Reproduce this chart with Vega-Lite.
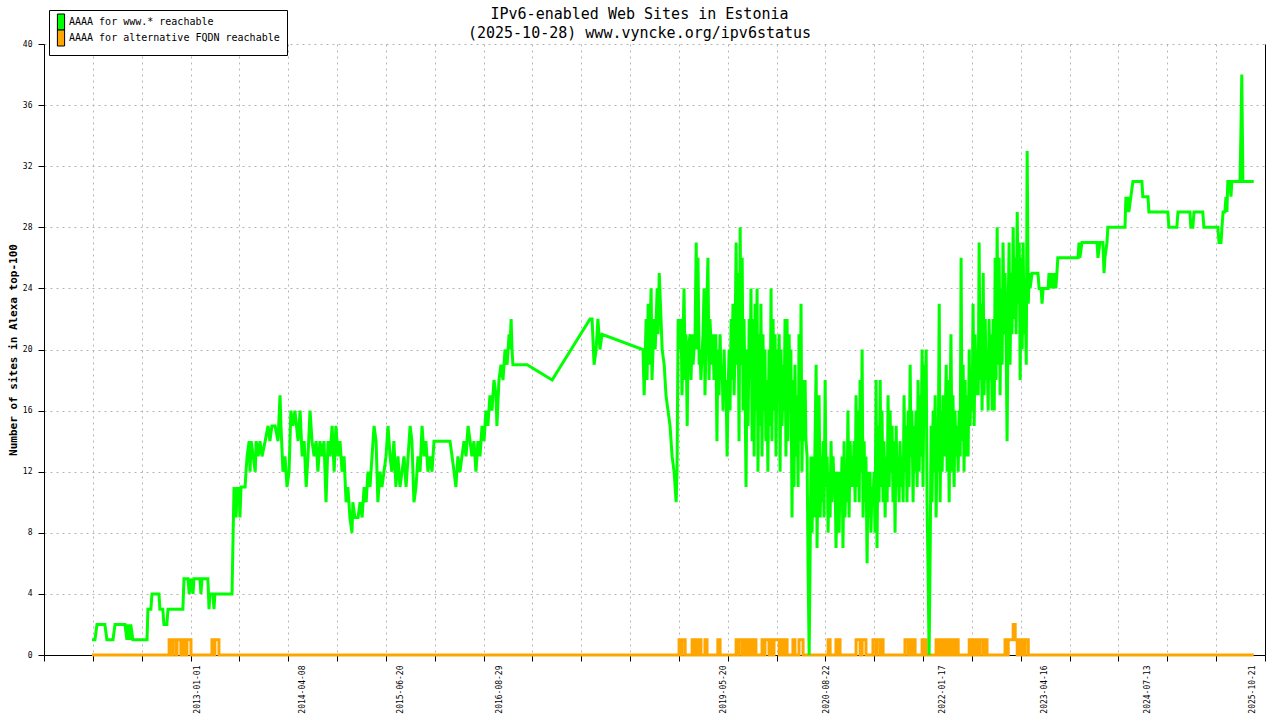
{
  "$schema": "https://vega.github.io/schema/vega-lite/v6.json",
  "width": 1221,
  "height": 611,
  "autosize": {"type": "none"},
  "padding": {"left": 44, "top": 44, "right": 15, "bottom": 65},
  "background": "white",
  "config": {
    "view": {"stroke": null},
    "font": "DejaVu Sans Mono",
    "axis": {"labelFont": "DejaVu Sans Mono", "titleFont": "DejaVu Sans Mono", "labelColor": "black", "titleColor": "black"}
  },
  "title": {
    "text": ["IPv6-enabled Web Sites in Estonia", "(2025-10-28) www.vyncke.org/ipv6status"],
    "font": "DejaVu Sans Mono",
    "fontSize": 15,
    "fontWeight": "normal",
    "color": "black",
    "anchor": "middle",
    "lineHeight": 19,
    "dx": -15,
    "dy": 35
  },
  "datasets": {
    "www": [
      {"d": "2011-09-19", "v": 1}, {"d": "2011-10-02", "v": 1}, {"d": "2011-10-11", "v": 2}, {"d": "2011-11-15", "v": 2},
      {"d": "2011-11-24", "v": 1}, {"d": "2011-12-21", "v": 1}, {"d": "2011-12-30", "v": 2}, {"d": "2012-02-12", "v": 2},
      {"d": "2012-02-21", "v": 1}, {"d": "2012-02-25", "v": 2}, {"d": "2012-03-05", "v": 1}, {"d": "2012-03-09", "v": 2},
      {"d": "2012-03-18", "v": 1}, {"d": "2012-05-20", "v": 1}, {"d": "2012-05-24", "v": 3}, {"d": "2012-06-06", "v": 3},
      {"d": "2012-06-11", "v": 4}, {"d": "2012-07-12", "v": 4}, {"d": "2012-07-16", "v": 3}, {"d": "2012-07-29", "v": 3},
      {"d": "2012-08-03", "v": 2}, {"d": "2012-08-16", "v": 2}, {"d": "2012-08-21", "v": 3}, {"d": "2012-10-26", "v": 3},
      {"d": "2012-10-31", "v": 5}, {"d": "2012-11-18", "v": 5}, {"d": "2012-11-23", "v": 4}, {"d": "2012-12-01", "v": 5},
      {"d": "2012-12-10", "v": 4}, {"d": "2012-12-14", "v": 5}, {"d": "2013-01-10", "v": 5}, {"d": "2013-01-14", "v": 4},
      {"d": "2013-01-19", "v": 5}, {"d": "2013-02-14", "v": 5}, {"d": "2013-02-19", "v": 3}, {"d": "2013-02-23", "v": 4},
      {"d": "2013-03-08", "v": 4}, {"d": "2013-03-13", "v": 3}, {"d": "2013-03-17", "v": 4}, {"d": "2013-06-01", "v": 4},
      {"d": "2013-06-06", "v": 8}, {"d": "2013-06-10", "v": 11}, {"d": "2013-06-19", "v": 9}, {"d": "2013-06-24", "v": 11},
      {"d": "2013-06-28", "v": 10}, {"d": "2013-07-02", "v": 11}, {"d": "2013-07-06", "v": 9}, {"d": "2013-07-11", "v": 11},
      {"d": "2013-07-29", "v": 11}, {"d": "2013-08-02", "v": 12}, {"d": "2013-08-07", "v": 13}, {"d": "2013-08-16", "v": 14},
      {"d": "2013-08-20", "v": 12}, {"d": "2013-08-25", "v": 14}, {"d": "2013-09-03", "v": 13}, {"d": "2013-09-12", "v": 12},
      {"d": "2013-09-16", "v": 14}, {"d": "2013-09-25", "v": 13}, {"d": "2013-10-03", "v": 14}, {"d": "2013-10-12", "v": 13},
      {"d": "2013-10-26", "v": 14}, {"d": "2013-11-08", "v": 15}, {"d": "2013-11-16", "v": 14}, {"d": "2013-11-25", "v": 15},
      {"d": "2013-12-09", "v": 15}, {"d": "2013-12-22", "v": 14}, {"d": "2013-12-31", "v": 17}, {"d": "2014-01-04", "v": 15},
      {"d": "2014-01-13", "v": 12}, {"d": "2014-01-22", "v": 13}, {"d": "2014-01-31", "v": 11}, {"d": "2014-02-09", "v": 12},
      {"d": "2014-02-17", "v": 16}, {"d": "2014-02-26", "v": 15}, {"d": "2014-03-07", "v": 16}, {"d": "2014-03-21", "v": 14},
      {"d": "2014-03-30", "v": 16}, {"d": "2014-04-08", "v": 13}, {"d": "2014-04-17", "v": 14}, {"d": "2014-04-26", "v": 11},
      {"d": "2014-05-04", "v": 13}, {"d": "2014-05-13", "v": 16}, {"d": "2014-05-22", "v": 14}, {"d": "2014-05-31", "v": 13},
      {"d": "2014-06-09", "v": 14}, {"d": "2014-06-17", "v": 12}, {"d": "2014-06-26", "v": 14}, {"d": "2014-07-05", "v": 13},
      {"d": "2014-07-14", "v": 14}, {"d": "2014-07-23", "v": 10}, {"d": "2014-08-01", "v": 14}, {"d": "2014-08-10", "v": 13},
      {"d": "2014-08-19", "v": 15}, {"d": "2014-08-28", "v": 12}, {"d": "2014-09-05", "v": 15}, {"d": "2014-09-14", "v": 13},
      {"d": "2014-09-23", "v": 14}, {"d": "2014-10-02", "v": 12}, {"d": "2014-10-11", "v": 13}, {"d": "2014-10-20", "v": 10},
      {"d": "2014-10-28", "v": 11}, {"d": "2014-11-06", "v": 9}, {"d": "2014-11-15", "v": 8}, {"d": "2014-11-19", "v": 10},
      {"d": "2014-11-28", "v": 9}, {"d": "2014-12-12", "v": 9}, {"d": "2014-12-21", "v": 10}, {"d": "2014-12-30", "v": 9},
      {"d": "2015-01-08", "v": 11}, {"d": "2015-01-17", "v": 10}, {"d": "2015-01-25", "v": 12}, {"d": "2015-02-03", "v": 11},
      {"d": "2015-02-12", "v": 13}, {"d": "2015-02-21", "v": 15}, {"d": "2015-03-02", "v": 14}, {"d": "2015-03-10", "v": 10},
      {"d": "2015-03-19", "v": 12}, {"d": "2015-03-28", "v": 11}, {"d": "2015-04-06", "v": 12}, {"d": "2015-04-15", "v": 13},
      {"d": "2015-04-24", "v": 15}, {"d": "2015-05-03", "v": 13}, {"d": "2015-05-11", "v": 12}, {"d": "2015-05-20", "v": 14},
      {"d": "2015-05-29", "v": 11}, {"d": "2015-06-07", "v": 13}, {"d": "2015-06-16", "v": 11}, {"d": "2015-06-25", "v": 12},
      {"d": "2015-07-04", "v": 13}, {"d": "2015-07-13", "v": 11}, {"d": "2015-07-22", "v": 13}, {"d": "2015-07-31", "v": 15},
      {"d": "2015-08-08", "v": 14}, {"d": "2015-08-17", "v": 10}, {"d": "2015-08-26", "v": 11}, {"d": "2015-09-04", "v": 13},
      {"d": "2015-09-13", "v": 12}, {"d": "2015-09-22", "v": 15}, {"d": "2015-10-01", "v": 13}, {"d": "2015-10-09", "v": 14},
      {"d": "2015-10-18", "v": 12}, {"d": "2015-10-27", "v": 13}, {"d": "2015-11-05", "v": 12}, {"d": "2015-11-14", "v": 14},
      {"d": "2016-01-24", "v": 14}, {"d": "2016-02-02", "v": 13}, {"d": "2016-02-11", "v": 12}, {"d": "2016-02-19", "v": 11},
      {"d": "2016-02-28", "v": 13}, {"d": "2016-03-08", "v": 12}, {"d": "2016-03-17", "v": 13}, {"d": "2016-03-26", "v": 14},
      {"d": "2016-04-04", "v": 13}, {"d": "2016-04-13", "v": 15}, {"d": "2016-04-22", "v": 14}, {"d": "2016-04-30", "v": 13},
      {"d": "2016-05-09", "v": 14}, {"d": "2016-05-18", "v": 12}, {"d": "2016-05-27", "v": 14}, {"d": "2016-06-05", "v": 13},
      {"d": "2016-06-14", "v": 15}, {"d": "2016-06-23", "v": 14}, {"d": "2016-07-01", "v": 16}, {"d": "2016-07-10", "v": 15},
      {"d": "2016-07-19", "v": 17}, {"d": "2016-07-28", "v": 16}, {"d": "2016-08-06", "v": 18}, {"d": "2016-08-15", "v": 17},
      {"d": "2016-08-19", "v": 15}, {"d": "2016-08-28", "v": 18}, {"d": "2016-09-06", "v": 19}, {"d": "2016-09-15", "v": 18},
      {"d": "2016-09-24", "v": 20}, {"d": "2016-10-03", "v": 19}, {"d": "2016-10-12", "v": 21}, {"d": "2016-10-16", "v": 20},
      {"d": "2016-10-21", "v": 22}, {"d": "2016-10-25", "v": 20}, {"d": "2016-10-29", "v": 19}, {"d": "2016-12-31", "v": 19},
      {"d": "2017-04-21", "v": 18}, {"d": "2017-10-06", "v": 22}, {"d": "2017-10-15", "v": 22}, {"d": "2017-10-24", "v": 19},
      {"d": "2017-11-02", "v": 20}, {"d": "2017-11-10", "v": 22}, {"d": "2017-11-19", "v": 20}, {"d": "2017-11-28", "v": 21},
      {"d": "2018-05-29", "v": 20}, {"d": "2018-06-03", "v": 17}, {"d": "2018-06-12", "v": 22}, {"d": "2018-06-16", "v": 18},
      {"d": "2018-06-21", "v": 23}, {"d": "2018-06-25", "v": 19}, {"d": "2018-07-04", "v": 24}, {"d": "2018-07-08", "v": 18},
      {"d": "2018-07-17", "v": 22}, {"d": "2018-07-22", "v": 20}, {"d": "2018-07-31", "v": 24}, {"d": "2018-08-04", "v": 21},
      {"d": "2018-08-09", "v": 25}, {"d": "2018-08-17", "v": 22}, {"d": "2018-08-22", "v": 20}, {"d": "2018-08-31", "v": 19},
      {"d": "2018-09-08", "v": 17}, {"d": "2018-09-17", "v": 16}, {"d": "2018-09-26", "v": 15}, {"d": "2018-10-05", "v": 13},
      {"d": "2018-10-14", "v": 12}, {"d": "2018-10-23", "v": 10}, {"d": "2018-10-27", "v": 12}, {"d": "2018-11-01", "v": 22},
      {"d": "2018-11-05", "v": 20}, {"d": "2018-11-14", "v": 22}, {"d": "2018-11-18", "v": 17}, {"d": "2018-11-23", "v": 21},
      {"d": "2018-11-27", "v": 24}, {"d": "2018-12-02", "v": 18}, {"d": "2018-12-06", "v": 21}, {"d": "2018-12-11", "v": 15},
      {"d": "2018-12-15", "v": 20}, {"d": "2018-12-24", "v": 21}, {"d": "2018-12-28", "v": 18}, {"d": "2019-01-02", "v": 21},
      {"d": "2019-01-06", "v": 19}, {"d": "2019-01-15", "v": 21}, {"d": "2019-01-20", "v": 27}, {"d": "2019-01-24", "v": 20},
      {"d": "2019-01-28", "v": 26}, {"d": "2019-02-02", "v": 19}, {"d": "2019-02-06", "v": 20}, {"d": "2019-02-10", "v": 18},
      {"d": "2019-02-19", "v": 21}, {"d": "2019-02-24", "v": 24}, {"d": "2019-02-28", "v": 17}, {"d": "2019-03-04", "v": 20},
      {"d": "2019-03-13", "v": 26}, {"d": "2019-03-18", "v": 18}, {"d": "2019-03-22", "v": 22}, {"d": "2019-03-31", "v": 19},
      {"d": "2019-04-04", "v": 21}, {"d": "2019-04-09", "v": 18}, {"d": "2019-04-17", "v": 21}, {"d": "2019-04-22", "v": 14},
      {"d": "2019-04-26", "v": 20}, {"d": "2019-05-01", "v": 17}, {"d": "2019-05-06", "v": 21}, {"d": "2019-05-10", "v": 18},
      {"d": "2019-05-15", "v": 19}, {"d": "2019-05-19", "v": 16}, {"d": "2019-05-24", "v": 20}, {"d": "2019-05-28", "v": 17},
      {"d": "2019-06-01", "v": 18}, {"d": "2019-06-06", "v": 13}, {"d": "2019-06-10", "v": 17}, {"d": "2019-06-15", "v": 20},
      {"d": "2019-06-19", "v": 16}, {"d": "2019-06-24", "v": 22}, {"d": "2019-06-28", "v": 18}, {"d": "2019-07-02", "v": 23},
      {"d": "2019-07-07", "v": 17}, {"d": "2019-07-11", "v": 20}, {"d": "2019-07-16", "v": 27}, {"d": "2019-07-20", "v": 19},
      {"d": "2019-07-24", "v": 25}, {"d": "2019-07-29", "v": 14}, {"d": "2019-08-03", "v": 28}, {"d": "2019-08-07", "v": 19},
      {"d": "2019-08-12", "v": 26}, {"d": "2019-08-16", "v": 16}, {"d": "2019-08-20", "v": 22}, {"d": "2019-08-25", "v": 17},
      {"d": "2019-08-29", "v": 11}, {"d": "2019-09-03", "v": 20}, {"d": "2019-09-07", "v": 15}, {"d": "2019-09-12", "v": 22},
      {"d": "2019-09-16", "v": 18}, {"d": "2019-09-20", "v": 24}, {"d": "2019-09-25", "v": 14}, {"d": "2019-09-29", "v": 22},
      {"d": "2019-10-04", "v": 13}, {"d": "2019-10-08", "v": 23}, {"d": "2019-10-12", "v": 16}, {"d": "2019-10-17", "v": 24},
      {"d": "2019-10-21", "v": 12}, {"d": "2019-10-26", "v": 21}, {"d": "2019-10-30", "v": 15}, {"d": "2019-11-03", "v": 23},
      {"d": "2019-11-08", "v": 13}, {"d": "2019-11-12", "v": 21}, {"d": "2019-11-17", "v": 16}, {"d": "2019-11-21", "v": 20},
      {"d": "2019-11-25", "v": 14}, {"d": "2019-11-30", "v": 18}, {"d": "2019-12-04", "v": 12}, {"d": "2019-12-09", "v": 20},
      {"d": "2019-12-14", "v": 15}, {"d": "2019-12-18", "v": 24}, {"d": "2019-12-22", "v": 14}, {"d": "2019-12-27", "v": 22},
      {"d": "2019-12-31", "v": 16}, {"d": "2020-01-05", "v": 21}, {"d": "2020-01-09", "v": 13}, {"d": "2020-01-14", "v": 20},
      {"d": "2020-01-18", "v": 17}, {"d": "2020-01-23", "v": 21}, {"d": "2020-01-27", "v": 12}, {"d": "2020-01-31", "v": 20},
      {"d": "2020-02-05", "v": 15}, {"d": "2020-02-09", "v": 19}, {"d": "2020-02-14", "v": 16}, {"d": "2020-02-18", "v": 22},
      {"d": "2020-02-22", "v": 13}, {"d": "2020-02-27", "v": 22}, {"d": "2020-03-02", "v": 14}, {"d": "2020-03-07", "v": 21},
      {"d": "2020-03-11", "v": 17}, {"d": "2020-03-15", "v": 20}, {"d": "2020-03-20", "v": 9}, {"d": "2020-03-24", "v": 18},
      {"d": "2020-03-29", "v": 11}, {"d": "2020-04-02", "v": 19}, {"d": "2020-04-07", "v": 13}, {"d": "2020-04-11", "v": 17},
      {"d": "2020-04-16", "v": 11}, {"d": "2020-04-20", "v": 21}, {"d": "2020-04-25", "v": 14}, {"d": "2020-04-29", "v": 23},
      {"d": "2020-05-03", "v": 12}, {"d": "2020-05-08", "v": 18}, {"d": "2020-05-12", "v": 14}, {"d": "2020-05-17", "v": 18},
      {"d": "2020-05-21", "v": 14}, {"d": "2020-05-26", "v": 13}, {"d": "2020-05-30", "v": 6}, {"d": "2020-06-04", "v": 0},
      {"d": "2020-06-08", "v": 6}, {"d": "2020-06-12", "v": 13}, {"d": "2020-06-17", "v": 8}, {"d": "2020-06-21", "v": 13},
      {"d": "2020-06-26", "v": 9}, {"d": "2020-06-30", "v": 14}, {"d": "2020-07-05", "v": 19}, {"d": "2020-07-09", "v": 7},
      {"d": "2020-07-14", "v": 14}, {"d": "2020-07-18", "v": 17}, {"d": "2020-07-23", "v": 9}, {"d": "2020-07-27", "v": 13},
      {"d": "2020-07-31", "v": 10}, {"d": "2020-08-05", "v": 14}, {"d": "2020-08-09", "v": 9}, {"d": "2020-08-14", "v": 18},
      {"d": "2020-08-18", "v": 11}, {"d": "2020-08-23", "v": 13}, {"d": "2020-08-27", "v": 8}, {"d": "2020-08-31", "v": 12},
      {"d": "2020-09-05", "v": 9}, {"d": "2020-09-09", "v": 14}, {"d": "2020-09-14", "v": 10}, {"d": "2020-09-18", "v": 13},
      {"d": "2020-09-23", "v": 11}, {"d": "2020-09-27", "v": 12}, {"d": "2020-10-01", "v": 7}, {"d": "2020-10-06", "v": 11},
      {"d": "2020-10-10", "v": 12}, {"d": "2020-10-15", "v": 8}, {"d": "2020-10-19", "v": 12}, {"d": "2020-10-23", "v": 10},
      {"d": "2020-10-28", "v": 13}, {"d": "2020-11-01", "v": 7}, {"d": "2020-11-06", "v": 14}, {"d": "2020-11-10", "v": 9},
      {"d": "2020-11-15", "v": 12}, {"d": "2020-11-19", "v": 10}, {"d": "2020-11-23", "v": 16}, {"d": "2020-11-28", "v": 9},
      {"d": "2020-12-03", "v": 14}, {"d": "2020-12-07", "v": 11}, {"d": "2020-12-12", "v": 13}, {"d": "2020-12-16", "v": 11},
      {"d": "2020-12-20", "v": 14}, {"d": "2020-12-25", "v": 10}, {"d": "2020-12-29", "v": 17}, {"d": "2021-01-03", "v": 11},
      {"d": "2021-01-07", "v": 16}, {"d": "2021-01-12", "v": 10}, {"d": "2021-01-16", "v": 18}, {"d": "2021-01-20", "v": 12},
      {"d": "2021-01-25", "v": 20}, {"d": "2021-01-29", "v": 9}, {"d": "2021-02-03", "v": 14}, {"d": "2021-02-07", "v": 10},
      {"d": "2021-02-11", "v": 13}, {"d": "2021-02-16", "v": 6}, {"d": "2021-02-20", "v": 12}, {"d": "2021-02-25", "v": 9},
      {"d": "2021-03-01", "v": 12}, {"d": "2021-03-05", "v": 8}, {"d": "2021-03-10", "v": 11}, {"d": "2021-03-14", "v": 10},
      {"d": "2021-03-19", "v": 12}, {"d": "2021-03-23", "v": 8}, {"d": "2021-03-28", "v": 18}, {"d": "2021-04-01", "v": 7},
      {"d": "2021-04-06", "v": 15}, {"d": "2021-04-10", "v": 10}, {"d": "2021-04-15", "v": 18}, {"d": "2021-04-19", "v": 11},
      {"d": "2021-04-23", "v": 16}, {"d": "2021-04-28", "v": 10}, {"d": "2021-05-02", "v": 14}, {"d": "2021-05-07", "v": 9},
      {"d": "2021-05-11", "v": 13}, {"d": "2021-05-16", "v": 10}, {"d": "2021-05-20", "v": 17}, {"d": "2021-05-25", "v": 11},
      {"d": "2021-05-29", "v": 16}, {"d": "2021-06-02", "v": 12}, {"d": "2021-06-07", "v": 15}, {"d": "2021-06-11", "v": 10},
      {"d": "2021-06-16", "v": 14}, {"d": "2021-06-20", "v": 8}, {"d": "2021-06-25", "v": 15}, {"d": "2021-06-29", "v": 11},
      {"d": "2021-07-03", "v": 13}, {"d": "2021-07-08", "v": 10}, {"d": "2021-07-12", "v": 14}, {"d": "2021-07-17", "v": 11},
      {"d": "2021-07-21", "v": 13}, {"d": "2021-07-26", "v": 10}, {"d": "2021-07-30", "v": 17}, {"d": "2021-08-03", "v": 12},
      {"d": "2021-08-08", "v": 15}, {"d": "2021-08-12", "v": 10}, {"d": "2021-08-17", "v": 16}, {"d": "2021-08-21", "v": 11},
      {"d": "2021-08-26", "v": 19}, {"d": "2021-08-30", "v": 13}, {"d": "2021-09-03", "v": 16}, {"d": "2021-09-08", "v": 10},
      {"d": "2021-09-12", "v": 15}, {"d": "2021-09-17", "v": 12}, {"d": "2021-09-21", "v": 16}, {"d": "2021-09-26", "v": 11},
      {"d": "2021-09-30", "v": 18}, {"d": "2021-10-05", "v": 12}, {"d": "2021-10-09", "v": 17}, {"d": "2021-10-13", "v": 13},
      {"d": "2021-10-18", "v": 20}, {"d": "2021-10-22", "v": 11}, {"d": "2021-10-27", "v": 19}, {"d": "2021-10-31", "v": 16},
      {"d": "2021-11-05", "v": 20}, {"d": "2021-11-09", "v": 10}, {"d": "2021-11-14", "v": 5}, {"d": "2021-11-18", "v": 0},
      {"d": "2021-11-23", "v": 7}, {"d": "2021-11-27", "v": 15}, {"d": "2021-12-01", "v": 10}, {"d": "2021-12-06", "v": 16},
      {"d": "2021-12-10", "v": 12}, {"d": "2021-12-15", "v": 17}, {"d": "2021-12-19", "v": 9}, {"d": "2021-12-24", "v": 14},
      {"d": "2021-12-28", "v": 12}, {"d": "2022-01-02", "v": 23}, {"d": "2022-01-06", "v": 10}, {"d": "2022-01-10", "v": 16},
      {"d": "2022-01-15", "v": 12}, {"d": "2022-01-19", "v": 17}, {"d": "2022-01-24", "v": 13}, {"d": "2022-01-28", "v": 15},
      {"d": "2022-02-02", "v": 19}, {"d": "2022-02-06", "v": 12}, {"d": "2022-02-10", "v": 18}, {"d": "2022-02-15", "v": 10},
      {"d": "2022-02-19", "v": 16}, {"d": "2022-02-23", "v": 21}, {"d": "2022-02-28", "v": 12}, {"d": "2022-03-04", "v": 17},
      {"d": "2022-03-09", "v": 11}, {"d": "2022-03-13", "v": 16}, {"d": "2022-03-18", "v": 13}, {"d": "2022-03-22", "v": 15},
      {"d": "2022-03-27", "v": 12}, {"d": "2022-03-31", "v": 16}, {"d": "2022-04-05", "v": 13}, {"d": "2022-04-09", "v": 26},
      {"d": "2022-04-13", "v": 14}, {"d": "2022-04-18", "v": 19}, {"d": "2022-04-22", "v": 12}, {"d": "2022-04-27", "v": 18},
      {"d": "2022-05-01", "v": 13}, {"d": "2022-05-06", "v": 17}, {"d": "2022-05-10", "v": 13}, {"d": "2022-05-15", "v": 20},
      {"d": "2022-05-19", "v": 15}, {"d": "2022-05-23", "v": 18}, {"d": "2022-05-28", "v": 16}, {"d": "2022-06-01", "v": 23},
      {"d": "2022-06-06", "v": 15}, {"d": "2022-06-10", "v": 21}, {"d": "2022-06-15", "v": 17}, {"d": "2022-06-19", "v": 20},
      {"d": "2022-06-24", "v": 17}, {"d": "2022-06-28", "v": 27}, {"d": "2022-07-02", "v": 18}, {"d": "2022-07-07", "v": 23},
      {"d": "2022-07-11", "v": 16}, {"d": "2022-07-16", "v": 25}, {"d": "2022-07-20", "v": 17}, {"d": "2022-07-25", "v": 22},
      {"d": "2022-07-29", "v": 18}, {"d": "2022-08-02", "v": 20}, {"d": "2022-08-07", "v": 16}, {"d": "2022-08-11", "v": 22},
      {"d": "2022-08-16", "v": 18}, {"d": "2022-08-20", "v": 21}, {"d": "2022-08-25", "v": 16}, {"d": "2022-08-29", "v": 22},
      {"d": "2022-09-03", "v": 16}, {"d": "2022-09-07", "v": 26}, {"d": "2022-09-11", "v": 18}, {"d": "2022-09-16", "v": 28},
      {"d": "2022-09-20", "v": 19}, {"d": "2022-09-25", "v": 26}, {"d": "2022-09-29", "v": 17}, {"d": "2022-10-03", "v": 24},
      {"d": "2022-10-08", "v": 19}, {"d": "2022-10-12", "v": 27}, {"d": "2022-10-17", "v": 21}, {"d": "2022-10-21", "v": 25},
      {"d": "2022-10-26", "v": 20}, {"d": "2022-10-30", "v": 14}, {"d": "2022-11-04", "v": 23}, {"d": "2022-11-08", "v": 27},
      {"d": "2022-11-12", "v": 19}, {"d": "2022-11-17", "v": 25}, {"d": "2022-11-21", "v": 21}, {"d": "2022-11-26", "v": 28},
      {"d": "2022-11-30", "v": 22}, {"d": "2022-12-05", "v": 26}, {"d": "2022-12-09", "v": 21}, {"d": "2022-12-14", "v": 29},
      {"d": "2022-12-18", "v": 23}, {"d": "2022-12-23", "v": 27}, {"d": "2022-12-27", "v": 18}, {"d": "2022-12-31", "v": 26},
      {"d": "2023-01-05", "v": 20}, {"d": "2023-01-09", "v": 27}, {"d": "2023-01-14", "v": 21}, {"d": "2023-01-18", "v": 24},
      {"d": "2023-01-23", "v": 19}, {"d": "2023-01-27", "v": 33}, {"d": "2023-02-01", "v": 23}, {"d": "2023-02-05", "v": 25},
      {"d": "2023-02-09", "v": 24}, {"d": "2023-02-18", "v": 25}, {"d": "2023-03-16", "v": 25}, {"d": "2023-03-21", "v": 24},
      {"d": "2023-03-30", "v": 24}, {"d": "2023-04-03", "v": 23}, {"d": "2023-04-08", "v": 24}, {"d": "2023-04-30", "v": 24},
      {"d": "2023-05-04", "v": 25}, {"d": "2023-05-08", "v": 24}, {"d": "2023-05-17", "v": 25}, {"d": "2023-05-21", "v": 24},
      {"d": "2023-05-30", "v": 25}, {"d": "2023-06-03", "v": 24}, {"d": "2023-06-08", "v": 25}, {"d": "2023-06-12", "v": 26},
      {"d": "2023-09-10", "v": 26}, {"d": "2023-09-14", "v": 27}, {"d": "2023-09-18", "v": 26}, {"d": "2023-09-27", "v": 27},
      {"d": "2023-12-03", "v": 27}, {"d": "2023-12-07", "v": 26}, {"d": "2023-12-16", "v": 27}, {"d": "2023-12-29", "v": 27},
      {"d": "2024-01-03", "v": 25}, {"d": "2024-01-07", "v": 26}, {"d": "2024-01-16", "v": 27}, {"d": "2024-01-20", "v": 28},
      {"d": "2024-04-05", "v": 28}, {"d": "2024-04-09", "v": 30}, {"d": "2024-04-14", "v": 29}, {"d": "2024-04-18", "v": 30},
      {"d": "2024-04-22", "v": 29}, {"d": "2024-05-01", "v": 30}, {"d": "2024-05-10", "v": 31}, {"d": "2024-06-19", "v": 31},
      {"d": "2024-06-23", "v": 30}, {"d": "2024-07-16", "v": 30}, {"d": "2024-07-20", "v": 29}, {"d": "2024-10-12", "v": 29},
      {"d": "2024-10-17", "v": 28}, {"d": "2024-11-21", "v": 28}, {"d": "2024-11-26", "v": 29}, {"d": "2025-01-18", "v": 29},
      {"d": "2025-01-22", "v": 28}, {"d": "2025-01-31", "v": 28}, {"d": "2025-02-05", "v": 29}, {"d": "2025-03-16", "v": 29},
      {"d": "2025-03-21", "v": 28}, {"d": "2025-05-22", "v": 28}, {"d": "2025-05-27", "v": 27}, {"d": "2025-06-05", "v": 27},
      {"d": "2025-06-09", "v": 28}, {"d": "2025-06-14", "v": 29}, {"d": "2025-06-22", "v": 29}, {"d": "2025-06-27", "v": 30},
      {"d": "2025-07-01", "v": 29}, {"d": "2025-07-05", "v": 31}, {"d": "2025-07-14", "v": 31}, {"d": "2025-07-19", "v": 30},
      {"d": "2025-07-23", "v": 31}, {"d": "2025-08-28", "v": 31}, {"d": "2025-09-01", "v": 34}, {"d": "2025-09-05", "v": 38},
      {"d": "2025-09-10", "v": 31}, {"d": "2025-10-28", "v": 31}
    ],
    "alt": [
      {"d": "2011-09-19", "v": 0},
      {"d": "2012-08-26", "v": 1}, {"d": "2012-09-08", "v": 0}, {"d": "2012-09-12", "v": 1}, {"d": "2012-09-26", "v": 0},
      {"d": "2012-09-30", "v": 1}, {"d": "2012-10-17", "v": 0}, {"d": "2012-10-26", "v": 1}, {"d": "2012-11-08", "v": 0},
      {"d": "2012-11-13", "v": 1}, {"d": "2012-12-01", "v": 0}, {"d": "2013-03-04", "v": 1}, {"d": "2013-03-13", "v": 0},
      {"d": "2013-03-17", "v": 1}, {"d": "2013-04-04", "v": 0},
      {"d": "2018-11-05", "v": 1}, {"d": "2018-11-14", "v": 0}, {"d": "2018-11-18", "v": 1}, {"d": "2018-12-02", "v": 0},
      {"d": "2019-01-02", "v": 1}, {"d": "2019-01-15", "v": 0}, {"d": "2019-01-24", "v": 1}, {"d": "2019-02-02", "v": 0},
      {"d": "2019-02-06", "v": 1}, {"d": "2019-02-10", "v": 0}, {"d": "2019-02-28", "v": 1}, {"d": "2019-03-09", "v": 0},
      {"d": "2019-04-26", "v": 1}, {"d": "2019-05-06", "v": 0}, {"d": "2019-07-16", "v": 1}, {"d": "2019-07-24", "v": 0},
      {"d": "2019-07-29", "v": 1}, {"d": "2019-08-12", "v": 0}, {"d": "2019-08-16", "v": 1}, {"d": "2019-08-29", "v": 0},
      {"d": "2019-09-03", "v": 1}, {"d": "2019-09-12", "v": 0}, {"d": "2019-09-16", "v": 1}, {"d": "2019-09-29", "v": 0},
      {"d": "2019-10-04", "v": 1}, {"d": "2019-10-12", "v": 0}, {"d": "2019-11-08", "v": 1}, {"d": "2019-11-17", "v": 0},
      {"d": "2019-11-21", "v": 1}, {"d": "2019-12-09", "v": 0}, {"d": "2019-12-14", "v": 1}, {"d": "2019-12-27", "v": 0},
      {"d": "2019-12-31", "v": 1}, {"d": "2020-01-23", "v": 0}, {"d": "2020-01-31", "v": 1}, {"d": "2020-02-09", "v": 0},
      {"d": "2020-02-14", "v": 1}, {"d": "2020-02-27", "v": 0}, {"d": "2020-03-24", "v": 1}, {"d": "2020-04-02", "v": 0},
      {"d": "2020-04-20", "v": 1}, {"d": "2020-05-08", "v": 0}, {"d": "2020-08-27", "v": 1}, {"d": "2020-09-05", "v": 0},
      {"d": "2020-10-01", "v": 1}, {"d": "2020-10-10", "v": 0}, {"d": "2020-10-15", "v": 1}, {"d": "2020-10-19", "v": 0},
      {"d": "2020-12-29", "v": 1}, {"d": "2021-01-16", "v": 0}, {"d": "2021-01-25", "v": 1}, {"d": "2021-02-11", "v": 0},
      {"d": "2021-03-14", "v": 1}, {"d": "2021-03-28", "v": 0}, {"d": "2021-04-01", "v": 1}, {"d": "2021-04-15", "v": 0},
      {"d": "2021-04-19", "v": 1}, {"d": "2021-04-28", "v": 0}, {"d": "2021-08-03", "v": 1}, {"d": "2021-08-17", "v": 0},
      {"d": "2021-08-21", "v": 1}, {"d": "2021-08-30", "v": 0}, {"d": "2021-09-08", "v": 1}, {"d": "2021-09-17", "v": 0},
      {"d": "2021-10-18", "v": 1}, {"d": "2021-10-27", "v": 0}, {"d": "2021-10-31", "v": 1}, {"d": "2021-11-05", "v": 0},
      {"d": "2021-12-19", "v": 1}, {"d": "2021-12-28", "v": 0}, {"d": "2022-01-02", "v": 1}, {"d": "2022-01-15", "v": 0},
      {"d": "2022-01-24", "v": 1}, {"d": "2022-02-06", "v": 0}, {"d": "2022-02-10", "v": 1}, {"d": "2022-02-23", "v": 0},
      {"d": "2022-02-28", "v": 1}, {"d": "2022-03-13", "v": 0}, {"d": "2022-03-18", "v": 1}, {"d": "2022-03-27", "v": 0},
      {"d": "2022-05-15", "v": 1}, {"d": "2022-05-23", "v": 0}, {"d": "2022-05-28", "v": 1}, {"d": "2022-06-10", "v": 0},
      {"d": "2022-06-15", "v": 1}, {"d": "2022-06-28", "v": 0}, {"d": "2022-07-02", "v": 1}, {"d": "2022-07-16", "v": 0},
      {"d": "2022-07-20", "v": 1}, {"d": "2022-08-02", "v": 0}, {"d": "2022-10-21", "v": 1}, {"d": "2022-10-30", "v": 0},
      {"d": "2022-11-04", "v": 1}, {"d": "2022-11-26", "v": 2}, {"d": "2022-12-05", "v": 1}, {"d": "2022-12-14", "v": 0},
      {"d": "2022-12-23", "v": 1}, {"d": "2022-12-31", "v": 0}, {"d": "2023-01-05", "v": 1}, {"d": "2023-01-14", "v": 0},
      {"d": "2023-01-18", "v": 1}, {"d": "2023-02-01", "v": 0}, {"d": "2025-10-28", "v": 0}
    ]
  },
  "layer": [
    {
      "data": {"name": "alt"},
      "mark": {"type": "line", "color": "#ffa500", "strokeWidth": 3, "interpolate": "step-after"},
      "encoding": {
        "x": {
          "field": "d",
          "type": "temporal",
          "scale": {
            "type": "utc",
            "domain": [{"year": 2011, "month": 2, "date": 18, "utc": true}, {"year": 2025, "month": 12, "date": 17, "utc": true}]
          },
          "axis": {
            "orient": "bottom",
            "title": null,
            "labels": false,
            "values": [
              {"year": 2011, "month": 2, "date": 18, "utc": true}, {"year": 2011, "month": 9, "date": 22, "utc": true},
              {"year": 2012, "month": 4, "date": 26, "utc": true}, {"year": 2012, "month": 11, "date": 29, "utc": true},
              {"year": 2013, "month": 7, "date": 3, "utc": true}, {"year": 2014, "month": 2, "date": 5, "utc": true},
              {"year": 2014, "month": 9, "date": 10, "utc": true}, {"year": 2015, "month": 4, "date": 14, "utc": true},
              {"year": 2015, "month": 11, "date": 17, "utc": true}, {"year": 2016, "month": 6, "date": 21, "utc": true},
              {"year": 2017, "month": 1, "date": 23, "utc": true}, {"year": 2017, "month": 8, "date": 28, "utc": true},
              {"year": 2018, "month": 4, "date": 1, "utc": true}, {"year": 2018, "month": 11, "date": 4, "utc": true},
              {"year": 2019, "month": 6, "date": 9, "utc": true}, {"year": 2020, "month": 1, "date": 12, "utc": true},
              {"year": 2020, "month": 8, "date": 15, "utc": true}, {"year": 2021, "month": 3, "date": 20, "utc": true},
              {"year": 2021, "month": 10, "date": 23, "utc": true}, {"year": 2022, "month": 5, "date": 27, "utc": true},
              {"year": 2022, "month": 12, "date": 30, "utc": true}, {"year": 2023, "month": 8, "date": 4, "utc": true},
              {"year": 2024, "month": 3, "date": 7, "utc": true}, {"year": 2024, "month": 10, "date": 10, "utc": true},
              {"year": 2025, "month": 5, "date": 15, "utc": true}, {"year": 2025, "month": 12, "date": 17, "utc": true}
            ],
            "ticks": true,
            "tickSize": 6,
            "tickColor": "black",
            "domainColor": "black",
            "grid": true,
            "gridColor": "#b4b4b4",
            "gridDash": [2, 4],
            "gridWidth": 1
          }
        },
        "y": {
          "field": "v",
          "type": "quantitative",
          "scale": {"domain": [0, 40], "nice": false, "zero": true},
          "axis": {
            "orient": "left",
            "title": "Number of sites in Alexa top-100",
            "titleFontSize": 11,
            "titleFontWeight": "bold",
            "titlePadding": 4,
            "values": [0, 4, 8, 12, 16, 20, 24, 28, 32, 36, 40],
            "labelFontSize": 8,
            "labelPadding": 6,
            "tickSize": 6,
            "tickColor": "black",
            "domainColor": "black",
            "grid": true,
            "gridColor": "#b4b4b4",
            "gridDash": [2, 4],
            "gridWidth": 1
          }
        }
      }
    },
    {
      "data": {"name": "www"},
      "mark": {"type": "line", "color": "#00ff00", "strokeWidth": 3},
      "encoding": {
        "x": {
          "field": "d",
          "type": "temporal",
          "scale": {
            "type": "utc",
            "domain": [{"year": 2011, "month": 2, "date": 18, "utc": true}, {"year": 2025, "month": 12, "date": 17, "utc": true}]
          },
          "axis": {
            "orient": "bottom",
            "title": null,
            "values": [
              {"year": 2013, "month": 1, "date": 1, "utc": true}, {"year": 2014, "month": 4, "date": 8, "utc": true},
              {"year": 2015, "month": 6, "date": 20, "utc": true}, {"year": 2016, "month": 8, "date": 29, "utc": true},
              {"year": 2019, "month": 5, "date": 20, "utc": true}, {"year": 2020, "month": 8, "date": 22, "utc": true},
              {"year": 2022, "month": 1, "date": 17, "utc": true}, {"year": 2023, "month": 4, "date": 16, "utc": true},
              {"year": 2024, "month": 7, "date": 13, "utc": true}, {"year": 2025, "month": 10, "date": 21, "utc": true}
            ],
            "format": "%Y-%m-%d",
            "labelAngle": 270,
            "labelFontSize": 8,
            "labelPadding": 10,
            "ticks": false,
            "tickSize": 0,
            "domain": false,
            "grid": false
          }
        },
        "y": {
          "field": "v",
          "type": "quantitative",
          "scale": {"domain": [0, 40], "nice": false, "zero": true},
          "axis": {
            "orient": "right",
            "title": null,
            "labels": false,
            "ticks": false,
            "grid": false,
            "domainColor": "black"
          }
        }
      }
    },
    {
      "data": {"values": [{"series": "AAAA for www.* reachable"}, {"series": "AAAA for alternative FQDN reachable"}]},
      "transform": [{"filter": "false"}],
      "mark": {"type": "point", "filled": true, "opacity": 1},
      "encoding": {
        "color": {
          "field": "series",
          "type": "nominal",
          "scale": {
            "domain": ["AAAA for www.* reachable", "AAAA for alternative FQDN reachable"],
            "range": ["#00ff00", "#ffa500"]
          },
          "legend": {
            "title": null,
            "orient": "none",
            "legendX": 5,
            "legendY": -34,
            "direction": "vertical",
            "strokeColor": "black",
            "fillColor": "white",
            "padding": 7,
            "cornerRadius": 0,
            "symbolType": "M-0.9,-2H0.9V2H-0.9Z",
            "symbolSize": 64,
            "symbolStrokeColor": "black",
            "symbolStrokeWidth": 1,
            "symbolOpacity": 1,
            "labelFont": "DejaVu Sans Mono",
            "labelFontSize": 10,
            "labelColor": "black",
            "labelOffset": 3,
            "labelLimit": 0,
            "rowPadding": -4
          }
        }
      }
    }
  ],
  "resolve": {"axis": {"x": "independent", "y": "independent"}}
}
